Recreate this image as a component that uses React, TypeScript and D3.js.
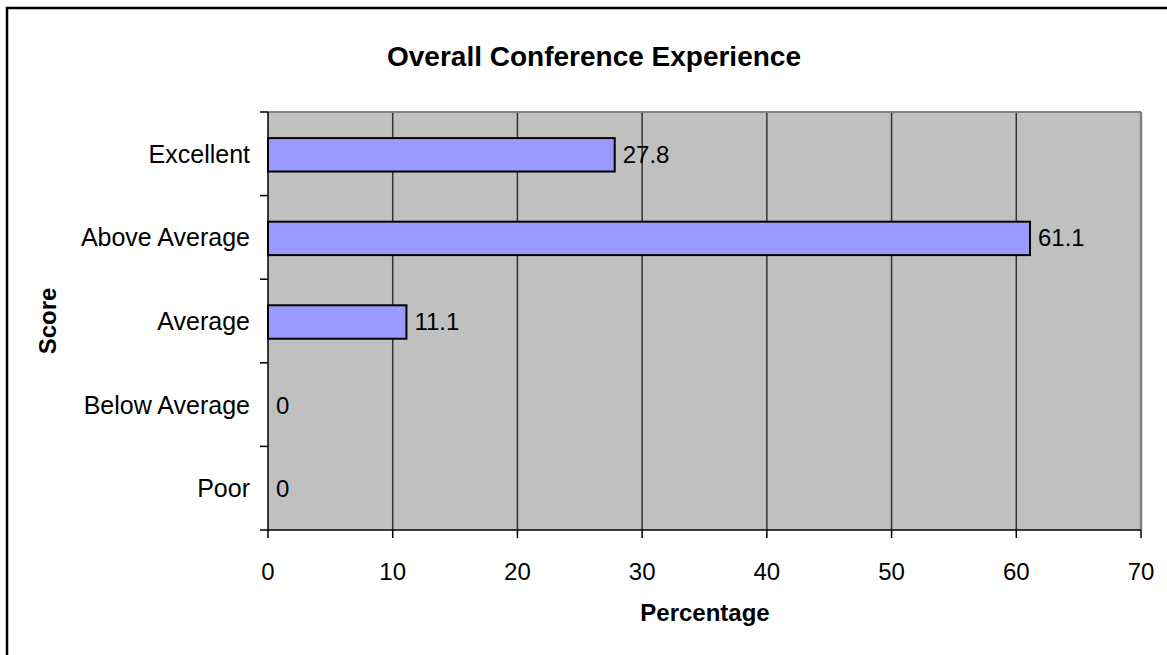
import React from "react";
import * as d3 from "d3";

const categories = ["Excellent", "Above Average", "Average", "Below Average", "Poor"];
const values = [27.8, 61.1, 11.1, 0, 0];
const xTicks = [0, 10, 20, 30, 40, 50, 60, 70];

const W = 1167, H = 655;
const L = 268, R = 1141, T = 112, B = 530;
const font = "Arial, 'Liberation Sans', sans-serif";

export default function App() {
  const x = d3.scaleLinear().domain([0, 70]).range([L, R]);
  const band = (B - T) / categories.length;
  const bh = band / 2.5;
  const yc = (c: string) => T + band * (categories.indexOf(c) + 0.5);
  return (
    <svg width={W} height={H} style={{ position: "absolute", left: 0, top: 0 }} fontFamily={font}>
      <rect x={0} y={0} width={W} height={H} fill="#fff" />
      <rect x={7} y={8} width={W + 20} height={H + 20} fill="none" stroke="#000" strokeWidth={2.5} />
      <text x={594} y={66} textAnchor="middle" fontSize={28} fontWeight="bold">Overall Conference Experience</text>
      <rect x={L} y={T} width={R - L} height={B - T} fill="#C0C0C0" />
      {xTicks.slice(1, -1).map((t) => (
        <line key={t} x1={x(t)} x2={x(t)} y1={T} y2={B} stroke="#333" strokeWidth={1.5} />
      ))}
      <line x1={L} x2={R} y1={T} y2={T} stroke="#808080" strokeWidth={2} />
      <line x1={R} x2={R} y1={T} y2={B} stroke="#808080" strokeWidth={2.5} />
      {categories.map((c, i) => (
        <g key={c}>
          {values[i] > 0 && (
            <rect x={x(0)} y={yc(c) - bh / 2 + 1} width={x(values[i]) - x(0)} height={bh} fill="#9999FF" stroke="#000" strokeWidth={2} />
          )}
          <text x={x(values[i]) + 8} y={yc(c) + 9} fontSize={24}>{values[i]}</text>
          <text x={250} y={yc(c) + 9} fontSize={25} textAnchor="end">{c}</text>
        </g>
      ))}
      {d3.range(categories.length + 1).map((i) => (
        <line key={i} x1={260} x2={L} y1={T + band * i} y2={T + band * i} stroke="#000" strokeWidth={1.5} />
      ))}
      <line x1={L} x2={L} y1={T} y2={B} stroke="#000" strokeWidth={1.5} />
      <line x1={L} x2={R} y1={B} y2={B} stroke="#000" strokeWidth={1.5} />
      {xTicks.map((t) => (
        <g key={t}>
          <line x1={x(t)} x2={x(t)} y1={B} y2={B + 8} stroke="#000" strokeWidth={1.5} />
          <text x={x(t)} y={580} fontSize={24} textAnchor="middle">{t}</text>
        </g>
      ))}
      <text x={705} y={621} fontSize={24} fontWeight="bold" textAnchor="middle">Percentage</text>
      <text transform={`translate(56,${(T + B) / 2}) rotate(-90)`} fontSize={24} fontWeight="bold" textAnchor="middle">Score</text>
    </svg>
  );
}
